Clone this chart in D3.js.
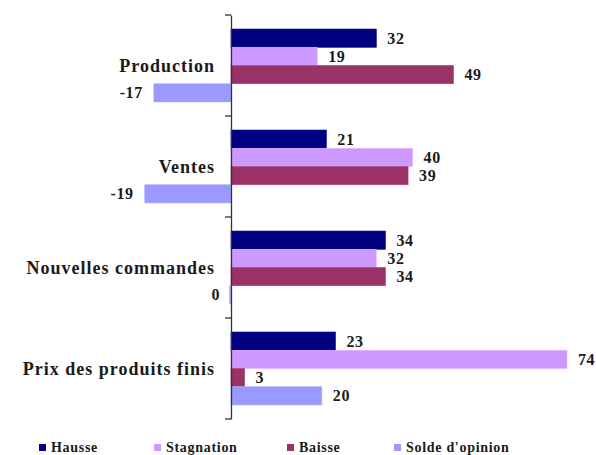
<!DOCTYPE html>
<html lang="fr">
<head>
<meta charset="utf-8">
<title>Opinion des chefs d'entreprise</title>
<script src="https://cdn.jsdelivr.net/npm/d3@7"></script>
<style>
  body { margin: 0; background: #fff; }
  svg { display: block; }
  svg text { font-family: 'Liberation Serif', 'Times New Roman', Times, serif; font-weight: bold; fill: #1a1a1a; }
</style>
</head>
<body>
<svg id="chart" width="596" height="455"></svg>
<script>
// categories (top to bottom) and series
var categories = ["Production", "Ventes", "Nouvelles commandes", "Prix des produits finis"];
var seriesNames = ["Hausse", "Stagnation", "Baisse", "Solde d'opinion"];
var seriesColors = ["#000080", "#cc99ff", "#993366", "#9999ff"];

var hausse = [32, 21, 34, 23];
var stagnation = [19, 40, 32, 74];
var baisse = [49, 39, 34, 3];
var solde = [-17, -19, 0, 20];

var seriesValues = [hausse, stagnation, baisse, solde];

/** build rows: one per category, one value per series */
var rows = categories.map(function(c, i) {
    return { cat: c, values: seriesValues.map(function(s, j) { return { key: seriesNames[j], v: s[i] }; }) };
});

var svg = d3.select("#chart"),
    plotLeft = 231,
    plotTop = 15,
    plotHeight = 404;

var x = d3.scaleLinear().domain([0, 74]).range([0, 336]);
var y0 = d3.scaleBand().domain(categories).range([0, plotHeight]).padding(0);
var y1 = d3.scaleBand().domain(seriesNames).range([0, y0.bandwidth()]).paddingInner(0).paddingOuter(0.77);
var color = d3.scaleOrdinal().domain(seriesNames).range(seriesColors);

var g = svg.append("g").attr("transform", "translate(" + plotLeft + "," + plotTop + ")");

/** groups and bars */
var groups = g.selectAll(".grp")
    .data(rows)
    .enter().append("g")
    .attr("class", "grp")
    .attr("transform", function(d) { return "translate(0," + y0(d.cat) + ")"; });

// a zero value still shows as a thin sliver left of the axis, like the original
groups.selectAll("rect")
    .data(function(d) { return d.values; })
    .enter().append("rect")
    .attr("x", function(d) { return d.v === 0 ? x(0) - 1.5 : x(Math.min(0, d.v)); })
    .attr("y", function(d) { return y1(d.key); })
    .attr("width", function(d) { return d.v === 0 ? 1.2 : Math.abs(x(d.v) - x(0)); })
    .attr("height", y1.bandwidth())
    .attr("fill", function(d) { return color(d.key); })
    .attr("stroke", function(d) { return d3.color(color(d.key)).brighter(0.4); })
    .attr("stroke-width", 0.6);

/** value labels */
groups.selectAll(".val")
    .data(function(d) { return d.values; })
    .enter().append("text")
    .attr("class", "val")
    .attr("x", function(d) { return d.v > 0 ? x(d.v) + 11 : x(d.v) - 11; })
    .attr("y", function(d) { return y1(d.key) + y1.bandwidth() / 2; })
    .attr("dy", "0.35em")
    .attr("text-anchor", function(d) { return d.v > 0 ? "start" : "end"; })
    .style("font-size", "16px")
    .style("letter-spacing", "0.6px")
    .text(function(d) { return d.v; });

/** vertical axis with outward ticks and no labels */
g.append("g")
    .call(d3.axisLeft(y0).tickValues([]).tickSizeOuter(0))
    .call(function(a) { a.select(".domain").attr("stroke", "#333").attr("stroke-width", 1.3); });

var tickPos = categories.map(function(c) { return y0(c); }).concat([plotHeight]);
g.selectAll(".tick-mark")
    .data(tickPos)
    .enter().append("line")
    .attr("class", "tick-mark")
    .attr("x1", -6).attr("x2", 0)
    .attr("y1", function(d) { return d; }).attr("y2", function(d) { return d; })
    .attr("stroke", "#333").attr("stroke-width", 1.3);

/** category labels */
g.selectAll(".cat")
    .data(categories)
    .enter().append("text")
    .attr("class", "cat")
    .attr("x", -16)
    .attr("y", function(d) { return y0(d) + y0.bandwidth() / 2; })
    .attr("dy", "0.35em")
    .attr("text-anchor", "end")
    .style("font-size", "18px")
    .style("letter-spacing", "1px")
    .text(function(d) { return d; });

/** legend */
var legendX = [39, 154, 287, 394];
var legend = svg.selectAll(".leg")
    .data(seriesNames)
    .enter().append("g")
    .attr("class", "leg")
    .attr("transform", function(d, i) { return "translate(" + legendX[i] + ",444)"; });

legend.append("rect")
    .attr("width", 7).attr("height", 7)
    .attr("fill", function(d) { return color(d); });

legend.append("text")
    .attr("x", 12)
    .attr("y", 8)
    .style("font-size", "14px")
    .style("letter-spacing", "0.7px")
    .text(function(d) { return d; });
</script>
</body>
</html>
